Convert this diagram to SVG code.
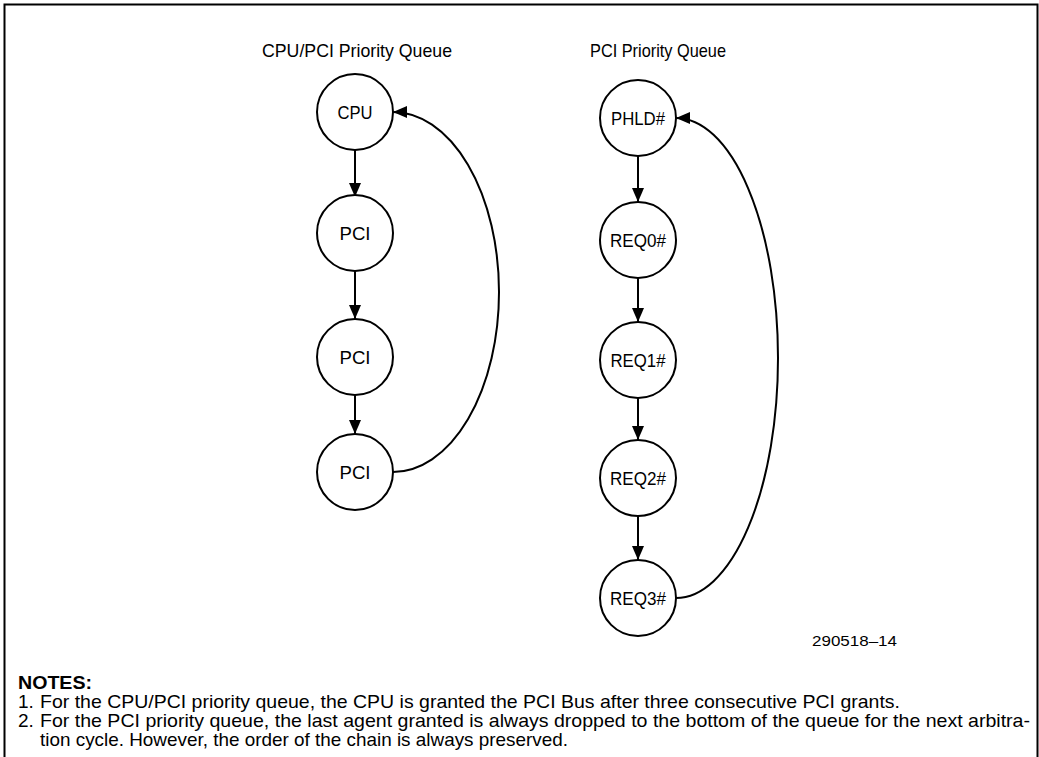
<svg xmlns="http://www.w3.org/2000/svg" width="1039" height="757" viewBox="0 0 1039 757">
<style>
text{font-family:"Liberation Sans",Arial,sans-serif;fill:#000}
.t{font-size:19px}
.ttl{font-size:19px}
.n{font-size:18px;text-anchor:middle}
.node circle{fill:#fff;stroke:#000;stroke-width:2}
.c{fill:none;stroke:#000;stroke-width:2}
</style>
<defs>
<marker id="ah" markerWidth="14" markerHeight="12" refX="14" refY="6" orient="auto" markerUnits="userSpaceOnUse">
<path d="M0,0 L14,6 L0,12 Z" fill="#000"/>
</marker>
</defs>
<rect width="1039" height="757" fill="#fff"/>
<path d="M4.5,757 V4.5 H1037.5 V757" fill="none" stroke="#000" stroke-width="2"/>
<text class="ttl" x="262" y="57" textLength="190" lengthAdjust="spacingAndGlyphs">CPU/PCI Priority Queue</text>
<text class="ttl" x="590" y="57" textLength="136" lengthAdjust="spacingAndGlyphs">PCI Priority Queue</text>
<g id="connectors">
<path class="c" d="M355,150 V197" marker-end="url(#ah)"/>
<path class="c" d="M355,271 V319" marker-end="url(#ah)"/>
<path class="c" d="M355,395 V434" marker-end="url(#ah)"/>
<path class="c" d="M393,472 A106 180 0 0 0 393,112" marker-end="url(#ah)"/>
<path class="c" d="M638,156 V202" marker-end="url(#ah)"/>
<path class="c" d="M638,278 V322" marker-end="url(#ah)"/>
<path class="c" d="M638,398 V440" marker-end="url(#ah)"/>
<path class="c" d="M638,516 V560" marker-end="url(#ah)"/>
<path class="c" d="M676,598 A102 240 0 0 0 676,118" marker-end="url(#ah)"/>
</g>
<g id="cpu" class="node"><circle cx="355" cy="112" r="38"/><text class="n" x="355" y="119" textLength="35" lengthAdjust="spacingAndGlyphs">CPU</text></g>
<g id="pci1" class="node"><circle cx="355" cy="233" r="38"/><text class="n" x="355" y="240" textLength="31" lengthAdjust="spacingAndGlyphs">PCI</text></g>
<g id="pci2" class="node"><circle cx="355" cy="357" r="38"/><text class="n" x="355" y="364" textLength="31" lengthAdjust="spacingAndGlyphs">PCI</text></g>
<g id="pci3" class="node"><circle cx="355" cy="472" r="38"/><text class="n" x="355" y="479" textLength="31" lengthAdjust="spacingAndGlyphs">PCI</text></g>
<g id="phld" class="node"><circle cx="638" cy="118" r="38"/><text class="n" x="638" y="125" textLength="54" lengthAdjust="spacingAndGlyphs">PHLD#</text></g>
<g id="req0" class="node"><circle cx="638" cy="240" r="38"/><text class="n" x="638" y="247" textLength="56" lengthAdjust="spacingAndGlyphs">REQ0#</text></g>
<g id="req1" class="node"><circle cx="638" cy="360" r="38"/><text class="n" x="638" y="367" textLength="55" lengthAdjust="spacingAndGlyphs">REQ1#</text></g>
<g id="req2" class="node"><circle cx="638" cy="478" r="38"/><text class="n" x="638" y="485" textLength="56" lengthAdjust="spacingAndGlyphs">REQ2#</text></g>
<g id="req3" class="node"><circle cx="638" cy="598" r="38"/><text class="n" x="638" y="605" textLength="56" lengthAdjust="spacingAndGlyphs">REQ3#</text></g>
<text x="812" y="646" font-size="15" textLength="85" lengthAdjust="spacingAndGlyphs">290518–14</text>
<text x="18" y="689" font-size="19" font-weight="bold" textLength="74" lengthAdjust="spacingAndGlyphs">NOTES:</text>
<text class="t" x="18" y="708">1.</text>
<text class="t" x="40" y="708" textLength="860" lengthAdjust="spacingAndGlyphs">For the CPU/PCI priority queue, the CPU is granted the PCI Bus after three consecutive PCI grants.</text>
<text class="t" x="18" y="727">2.</text>
<text class="t" x="40" y="727" textLength="990" lengthAdjust="spacingAndGlyphs">For the PCI priority queue, the last agent granted is always dropped to the bottom of the queue for the next arbitra-</text>
<text class="t" x="40" y="746" textLength="528" lengthAdjust="spacingAndGlyphs">tion cycle. However, the order of the chain is always preserved.</text>
</svg>
